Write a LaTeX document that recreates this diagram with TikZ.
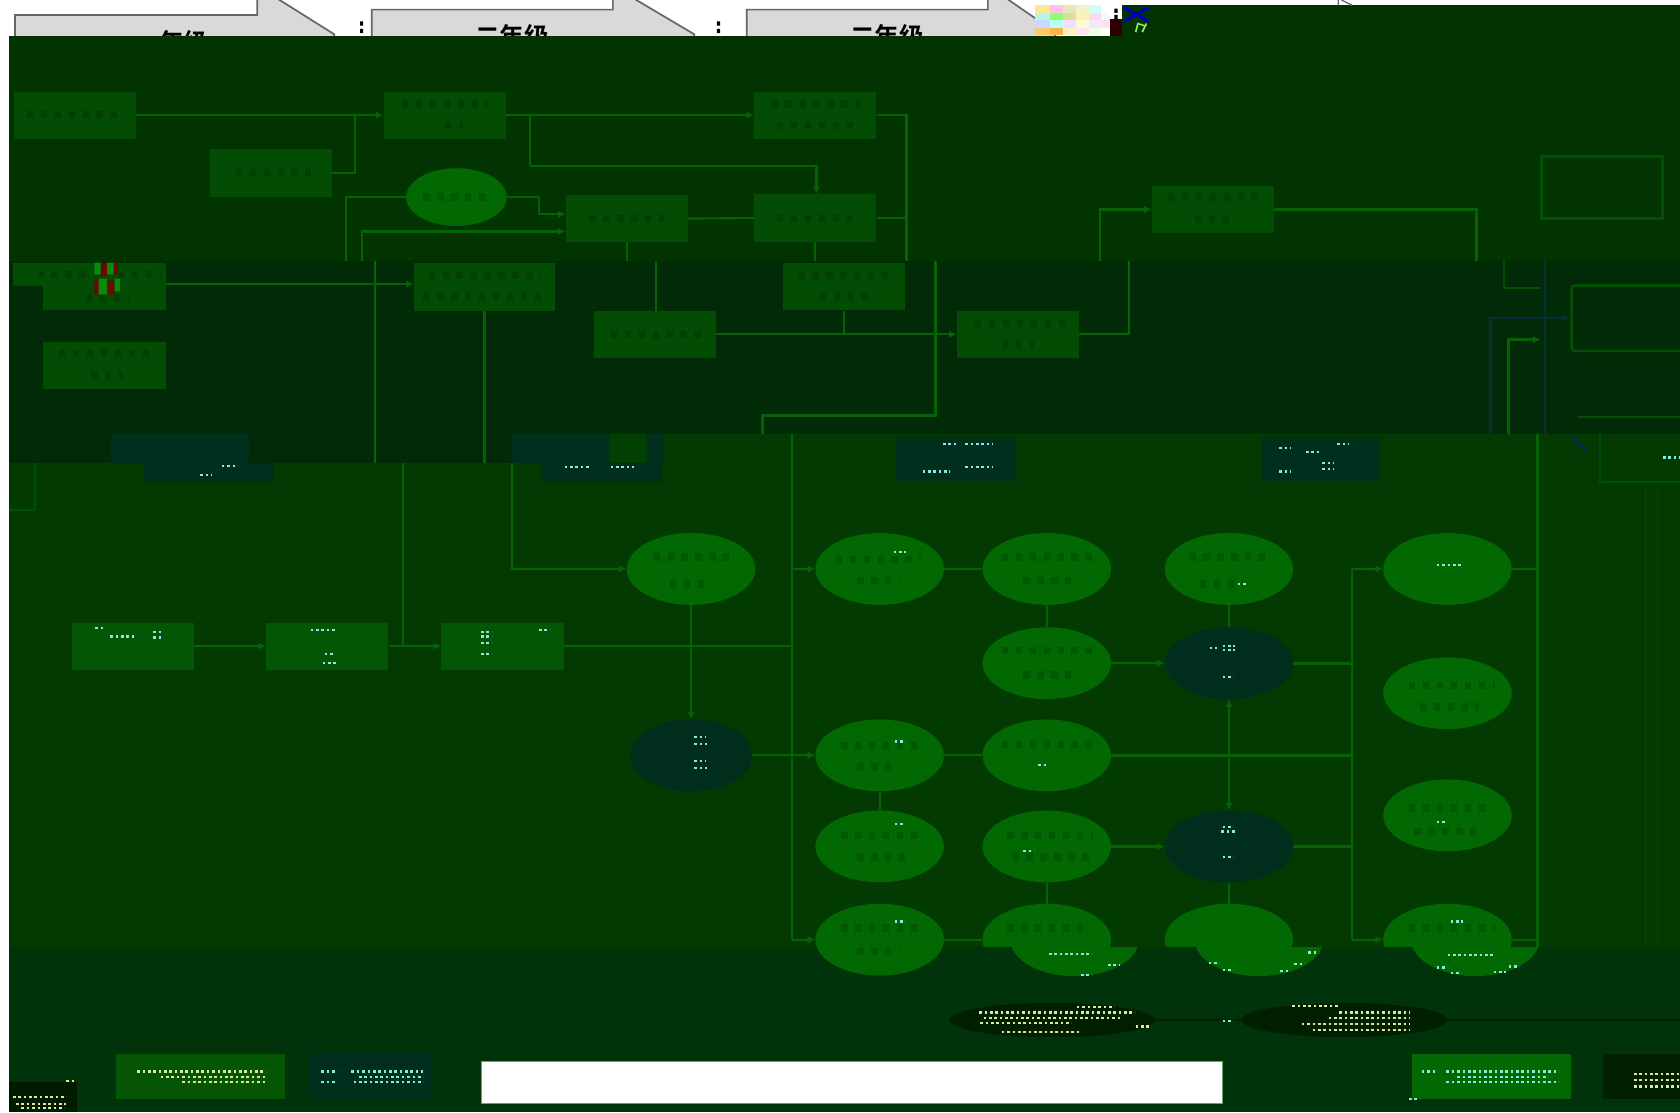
\documentclass[tikz,border=0pt]{standalone}
\usepackage{fontspec}
\setmainfont{Noto Sans CJK SC}[BoldFont={Noto Sans CJK SC Bold}]
\usetikzlibrary{arrows.meta,calc,shapes.geometric}
\definecolor{bandA}{HTML}{013401}
\definecolor{bandB}{HTML}{012A06}
\definecolor{bandC}{HTML}{023A02}
\definecolor{bandD}{HTML}{01330A}
\definecolor{boxA}{HTML}{034C03}
\definecolor{boxB}{HTML}{045604}
\definecolor{ovalG}{HTML}{026802}
\definecolor{ovalB}{HTML}{012E1C}
\definecolor{ovalK}{HTML}{001F00}
\definecolor{lineG}{HTML}{056205}
\definecolor{lineD}{HTML}{034F03}
\definecolor{lineB}{HTML}{03303A}
\definecolor{dotC}{HTML}{86EBDC}
\definecolor{dotY}{HTML}{DDE89A}
\definecolor{tealB}{HTML}{012F1E}
\definecolor{tealC}{HTML}{024002}
\definecolor{greyA}{HTML}{D9D9D9}
\definecolor{greyL}{HTML}{666666}
\definecolor{redN}{HTML}{6A0808}
\definecolor{greenN}{HTML}{0A8A0A}
\definecolor{darkN}{HTML}{300000}
\definecolor{faintL}{HTML}{024A02}
\definecolor{cornerK}{HTML}{001C00}
\definecolor{linkK}{HTML}{002400}
\tikzset{
 gradearrow/.style={fill=greyA,draw=greyL,line width=1.6pt,line join=miter},
 gradetext/.style={font=\bfseries\fontsize{23}{23}\selectfont,inner sep=0pt,text=black},
 boxnode/.style={rectangle,draw=none,fill=boxA,minimum width=114pt,minimum height=44pt,inner sep=0pt},
 oval/.style={ellipse,draw=none,fill=ovalG,minimum width=120pt,minimum height=67pt,inner sep=0pt},
 link/.style={draw=lineG,line width=2pt,-{Latex[length=7pt,width=7pt]}},
 plain/.style={draw=lineG,line width=2pt},
 dimlink/.style={draw=lineD,line width=1.8pt},
 bluelink/.style={draw=lineB,line width=2.2pt},
}
\newcommand{\rowdots}[4]{\draw[#4,line width=2pt,dash pattern=on 2.5pt off 2.5pt] (#1,#3) -- (#2,#3);}
\newcommand{\smear}[3]{\draw[black,opacity=.16,line width=7pt,dash pattern=on 6pt off 7pt] (#1,#3) -- (#2,#3);}
\begin{document}
\begin{tikzpicture}[x=1pt,y=-1pt]
\useasboundingbox (0,0) rectangle (1568,1038);
\fill[white] (0,0) rectangle (1568,1038);
% top grade arrows
\draw[gradearrow] (14,50) -- (14,14) -- (240,14) -- (240,-10) -- (245,-10) -- (312,32) -- (312,50) -- cycle;
\draw[gradearrow] (347,50) -- (347,9) -- (572,9) -- (572,-10) -- (577,-10) -- (648,32) -- (648,50) -- cycle;
\draw[gradearrow] (697,50) -- (697,9) -- (922,9) -- (922,-10) -- (927,-10) -- (985,30) -- (985,50) -- cycle;
\node[gradetext] (g1) at (160,39) {一年级};
\node[gradetext] (g2) at (478,34) {二年级};
\node[gradetext] (g3) at (828,34) {二年级};
\fill[black] (336,20) rectangle (339,24) (336,27) rectangle (339,31) (669,20) rectangle (672,24) (669,27) rectangle (672,31);
% noise block
\foreach \x/\ca/\cb/\cc/\cd in {966/FFE98F/B5F5F0/C9D9FF/FFC96B,980/FFC2E6/8CFF6E/B8FFF2/FFB14D,992/E6E6B8/D8E0A0/F0E0FF/FFF0C0,1004/F4F0C8/FFF2B0/FFF8D8/FFE6F0,1016/CFFFF5/FFD6F0/F4E8FF/F0FFE0,1028/FFFFFF/E8FFF8/FFE0F0/FFFFFF}{
 \definecolor{nA}{HTML}{\ca}\definecolor{nB}{HTML}{\cb}\definecolor{nC}{HTML}{\cc}\definecolor{nD}{HTML}{\cd}
 \fill[nA] (\x,5) rectangle +(14,7);
 \fill[nB] (\x,12) rectangle +(14,7);
 \fill[nC] (\x,19) rectangle +(14,7);
 \fill[nD] (\x,26) rectangle +(14,7);
}
\fill[white] (1036,5) rectangle (1047,18);
\fill[black] (1040,8) rectangle (1043,12) (1040,14) rectangle (1043,18);
\fill[darkN] (1036,18) rectangle (1047,34);
\fill[bandA] (1047,5) rectangle (1568,34);
\draw[blue!70!black,line width=3pt] (1049,7) -- (1072,20) (1072,7) -- (1049,20);
\draw[dotY!60!green,line width=1.5pt] (1060,30) -- (1062,22) -- (1068,24) (1066,30) -- (1070,22);
\draw[greyL,line width=1.2pt] (1249,0) -- (1249,5) (1252,0) -- (1262,5);
% background bands
\fill[bandA] (8,34) rectangle (1568,244);
\fill[bandB] (8,244) rectangle (1568,405);
\fill[bandB] (8,405) rectangle (620,432);
\fill[bandC] (620,405) rectangle (1568,432);
\fill[bandC] (8,432) rectangle (1568,884);
\fill[bandD] (8,884) rectangle (1568,1038);
% teal-tinted damaged strips
\fill[tealB] (104,405) rectangle (232,432);
\fill[tealB] (134,432) rectangle (256,450);
\fill[tealB] (478,405) rectangle (568,432);
\fill[tealC] (568,405) rectangle (604,432);
\fill[tealB] (604,405) rectangle (620,432);
\fill[tealB] (505,432) rectangle (618,450);
\fill[tealB] (835,408) rectangle (947,449);
\fill[tealB] (1178,408) rectangle (1288,449);
% boxes, upper part
\node[boxnode] (A) at (70,107.5) {};
\node[boxnode] (B) at (415,107.5) {};
\node[boxnode] (C) at (761,107.5) {};
\node[boxnode] (D) at (253,161.5) {};
\node[oval,minimum width=94pt,minimum height=54pt] (E) at (426,184) {};
\node[boxnode] (F) at (585,204) {};
\node[boxnode] (G) at (761,203.5) {};
\node[boxnode,minimum width=143pt,minimum height=22pt] (H) at (83.5,256) {};
\node[boxnode,minimum width=115pt,minimum height=22pt] (H2) at (97.5,278) {};
\node[boxnode] (I) at (97.5,341) {};
\node[boxnode,minimum width=132pt,minimum height=45pt] (J) at (452,267.5) {};
\node[boxnode] (K) at (788,267.5) {};
\node[boxnode] (L) at (611.5,312) {};
\node[boxnode] (M) at (950,312) {};
\node[boxnode] (N) at (1132,195.5) {};
\node[rectangle,draw=lineD,line width=3pt,fill=bandA,minimum width=113pt,minimum height=58pt,inner sep=0pt] (O) at (1495,175) {};
\node[rectangle,rounded corners=3pt,draw=lineD,line width=2.5pt,fill=bandB,minimum width=130pt,minimum height=61pt,inner sep=0pt] (P) at (1532,297) {};
% red noise on H
\fill[redN] (94,245) rectangle (100,258) (106,245) rectangle (110,256) (88,260) rectangle (92,275) (100,262) rectangle (107,275);
\fill[greenN] (88,245) rectangle (94,256) (100,245) rectangle (106,256) (92,260) rectangle (100,275) (107,260) rectangle (112,272);
% boxes, lower part
\node[boxnode,fill=boxB] (R) at (124,603) {};
\node[boxnode,fill=boxB] (S) at (305.5,603) {};
\node[boxnode,fill=boxB] (T) at (469,603) {};
\node[oval] (e1) at (645,531) {};
\node[oval,fill=ovalB,minimum width=114pt] (e2) at (645,705) {};
\node[oval] (e3) at (821,531) {};
\node[oval] (e4) at (821,705) {};
\node[oval] (e5) at (821,790) {};
\node[oval] (e6) at (821,877) {};
\node[oval] (e7) at (977,531) {};
\node[oval] (e8) at (977,619) {};
\node[oval] (e9) at (977,705) {};
\node[oval] (e10) at (977,790) {};
\node[oval] (e11) at (977,877) {};
\node[oval] (e12) at (1147,531) {};
\node[oval,fill=ovalB] (e13) at (1147,619) {};
\node[oval,fill=ovalB] (e14) at (1147,790) {};
\node[oval] (e15) at (1147,877) {};
\node[oval] (e16) at (1351,531) {};
\node[oval] (e17) at (1351,647) {};
\node[oval] (e18) at (1351,761) {};
\node[oval] (e19) at (1351,877) {};
% bottom band cuts the last ovals and shifts them
\fill[bandD] (900,884) rectangle (1450,920);
\begin{scope}
\clip (900,884) rectangle (1450,925);
\fill[ovalG] (1003,877) ellipse (60pt and 34pt);
\fill[ovalG] (1175,877) ellipse (60pt and 34pt);
\fill[ovalG] (1377,877) ellipse (60pt and 34pt);
\end{scope}
% black ovals and bottom boxes
\node[ellipse,fill=ovalK,draw=none,minimum width=192pt,minimum height=32pt,inner sep=0pt] (k1) at (982,952) {};
\node[ellipse,fill=ovalK,draw=none,minimum width=192pt,minimum height=32pt,inner sep=0pt] (k2) at (1255,952) {};
\node[rectangle,fill=boxB,minimum width=158pt,minimum height=42pt,inner sep=0pt] (b1) at (187,1005) {};
\node[rectangle,fill=tealB,minimum width=114pt,minimum height=42pt,inner sep=0pt] (b2) at (345,1005) {};
\node[rectangle,fill=ovalG,minimum width=148pt,minimum height=42pt,inner sep=0pt] (b3) at (1392,1005) {};
\node[rectangle,fill=ovalK,minimum width=90pt,minimum height=42pt,inner sep=0pt] (b4) at (1541,1005) {};
\node[rectangle,fill=cornerK,minimum width=64pt,minimum height=28pt,inner sep=0pt] (b5) at (40,1024) {};
\node[rectangle,draw=lineG!60!white,line width=.8pt,fill=white,minimum width=692pt,minimum height=39pt,inner sep=0pt] (w) at (795,1010.5) {};
% connectors, upper part
\coordinate (j1) at (331,107);
\draw[link] (A.east) -- (B.west);
\draw[plain] (D.east) -| (j1);
\draw[link] (B.east) -- (C.west);
\coordinate (j2) at (495,107);
\coordinate (j3) at (762,181);
\coordinate (j2b) at (495,155);
\draw[plain] (j2) -- (j2b);
\draw[link] (j2b) -| (j3);
\coordinate (j4) at (846,244);
\draw[plain,line width=2.4pt] (C.east) -| (j4);
\coordinate (j4b) at (846,203.5);
\draw[plain] (G.east) -- (j4b);
\coordinate (j5) at (323,244);
\draw[plain] (E.west) -| (j5);
\coordinate (j5b) at (503,184);
\coordinate (j5c) at (528,200);
\draw[plain] (E.east) -- (j5b);
\draw[link] (j5b) |- (j5c);
\coordinate (j6) at (338,244);
\coordinate (j6b) at (528,216);
\draw[link] (j6) |- (j6b);
\draw[plain] (F.east) -- (G.west);
\coordinate (j6c) at (585,244);
\draw[plain] (F.south) -- (j6c);
\coordinate (j6d) at (612,244);
\coordinate (j6f) at (612,290);
\draw[plain] (j6d) -- (j6f);
\coordinate (j6e) at (761,244);
\draw[plain] (G.south) -- (j6e);
\coordinate (j7) at (155,265);
\coordinate (j7b) at (386,265);
\draw[link] (j7) -- (j7b);
\draw[plain] (350,244) -- (350,432);
\coordinate (j7c) at (452,432);
\draw[plain,line width=2.4pt] (J.south) -- (j7c);
\draw[link] (L.east) -- (M.west);
\draw[plain] (788,290) -- (788,312);
\coordinate (j8) at (1054,244);
\draw[plain] (M.east) -| (j8);
\coordinate (j9) at (1027,244);
\draw[link] (j9) |- (N.west);
\coordinate (j10) at (1378,244);
\draw[plain] (N.east) -| (j10);
\draw[plain,line width=2.8pt] (873,244) -- (873,388) -- (712,388) -- (712,405);
\draw[dimlink] (1404,244) |- (1438,269);
\draw[bluelink] (1442,244) -- (1442,405);
\draw[bluelink,-{Latex[length=7pt,width=7pt]}] (1391,405) |- (P.west);
\draw[link,line width=2.4pt] (1408,405) |- (1438,317);
\draw[dimlink] (1473,389) -- (1568,389);
\draw[dimlink] (8,476) -- (33,476) -- (33,432);
\draw[dimlink] (1493,405) |- (1568,450);
\draw[bluelink,line width=3pt] (1468,408) -- (1482,422);
\draw[faintL,line width=1pt] (1536,450) -- (1536,884) (1547,450) -- (1547,884);
% connectors, lower part
\draw[plain] (376,432) -- (376,603);
\draw[link] (R.east) -- (S.west);
\draw[link] (S.east) -- (T.west);
\coordinate (j20) at (739,603);
\draw[plain] (T.east) -- (j20);
\coordinate (j21) at (478,432);
\draw[link,line width=2.4pt] (j21) |- (e1.west);
\draw[link] (e1.south) -- (e2.north);
\draw[plain,line width=2.4pt] (739,405) -- (739,877);
\coordinate (j11) at (739,531);
\coordinate (j12) at (739,877);
\draw[link] (j11) -- (e3.west);
\draw[link] (e2.east) -- (e4.west);
\draw[link] (j12) -- (e6.west);
\draw[plain] (e3.east) -- (e7.west);
\draw[plain] (e7.south) -- (e8.north);
\draw[link] (e8.east) -- (e13.west);
\draw[plain] (e12.south) -- (e13.north);
\draw[plain] (e4.east) -- (e9.west);
\draw[plain] (e4.south) -- (e5.north);
\coordinate (b0) at (1262,705);
\draw[plain,line width=2.4pt] (e9.east) -- (b0);
\draw[{Latex[length=7pt,width=7pt]}-{Latex[length=7pt,width=7pt]},draw=lineG,line width=2pt] (e13.south) -- (e14.north);
\draw[link] (e10.east) -- (e14.west);
\draw[plain] (e11.north) -- (e10.south);
\draw[plain] (e15.north) -- (e14.south);
\draw[plain] (e6.east) -- (e11.west);
\coordinate (b1j) at (1262,619);
\coordinate (b2j) at (1262,790);
\draw[plain,line width=2.4pt] (e13.east) -- (b1j);
\draw[plain,line width=2.4pt] (e14.east) -- (b2j);
\draw[plain] (1262,531) -- (1262,877);
\coordinate (b3j) at (1262,531);
\coordinate (b4j) at (1262,877);
\draw[link] (b3j) -- (e16.west);
\draw[link] (b4j) -- (e19.west);
\coordinate (r1) at (1435,531);
\coordinate (r2) at (1435,877);
\draw[plain] (e16.east) -- (r1);
\draw[plain] (e19.east) -- (r2);
\draw[plain,line width=2.6pt] (1435,405) -- (1435,884);
\draw[linkK,line width=2pt] (k1.east) -- (k2.west);
\coordinate (k3) at (1568,952);
\draw[linkK,line width=2pt] (k2.east) -- (k3);
% marks where the labels are unreadable
\foreach \a/\b/\c in {25/115/107,375/455/97,415/432/117,720/805/97,725/800/117,220/290/161,395/460/184,550/620/204,725/795/204,35/80/256,110/150/256,80/120/278,55/140/330,85/115/350,400/505/257,395/505/277,745/830/257,765/810/277,570/655/312,910/995/302,935/965/322,1090/1175/184,1115/1150/205,
 610/680/520,625/660/545,780/860/522,800/840/542,935/1020/520,955/1000/542,935/1020/607,955/1000/630,785/860/696,800/835/716,935/1020/695,785/860/780,800/850/800,940/1020/780,945/1020/800,785/860/866,800/840/888,940/1015/866,1110/1185/520,1120/1160/545,1315/1395/640,1325/1380/660,1315/1390/754,1320/1385/776,1315/1395/866}{
 \smear{\a}{\b}{\c}
}
% small surviving dots
\foreach \a/\b/\c in {187/198/443,207/222/435,527/550/436,570/592/436,880/892/414,901/927/414,861/887/440,901/927/436,1194/1205/418,1219/1234/422,1248/1259/414,1234/1245/432,1234/1245/438,1194/1205/440,1552/1568/427,
 89/99/586,103/125/594,143/152/590,143/152/595,290/314/588,303/312/610,301/315/619,449/459/590,449/459/594,503/513/588,449/459/600,449/459/610,
 648/659/688,648/660/694,648/659/710,648/660/717,834/846/515,835/845/692,835/845/769,835/845/860,969/978/714,955/965/794,1155/1165/545,1129/1136/605,1141/1153/607,1141/1153/603,1141/1151/632,1141/1151/772,1140/1153/776,1141/1151/800,1341/1365/527,1341/1351/767,1354/1365/860,
 979/1019/890,1034/1045/901,1009/1019/910,1221/1231/889,1128/1138/899,1141/1151/905,1208/1218/900,1195/1205/906,1351/1393/891,1341/1351/903,1354/1364/908,1394/1406/907,1408/1418/902,1141/1151/953,
 1327/1340/1000,1315/1325/1026,1350/1455/1000,1360/1445/1005,1350/1455/1010,300/315/1000,300/315/1010,328/395/1000,335/395/1005,330/395/1010}{
 \rowdots{\a}{\b}{\c}{dotC}
}
\foreach \a/\b/\c in {914/1059/945,918/1045/950,915/1000/955,935/1010/963,1005/1040/940,1060/1072/958,1206/1250/939,1250/1316/945,1240/1316/950,1215/1316/956,1225/1316/961,128/248/1000,150/248/1005,170/248/1010,1525/1568/1002,1525/1568/1008,1525/1568/1014,12/62/1024,15/62/1030,20/60/1034,62/70/1009}{
 \rowdots{\a}{\b}{\c}{dotY}
}
\end{tikzpicture}
\end{document}
